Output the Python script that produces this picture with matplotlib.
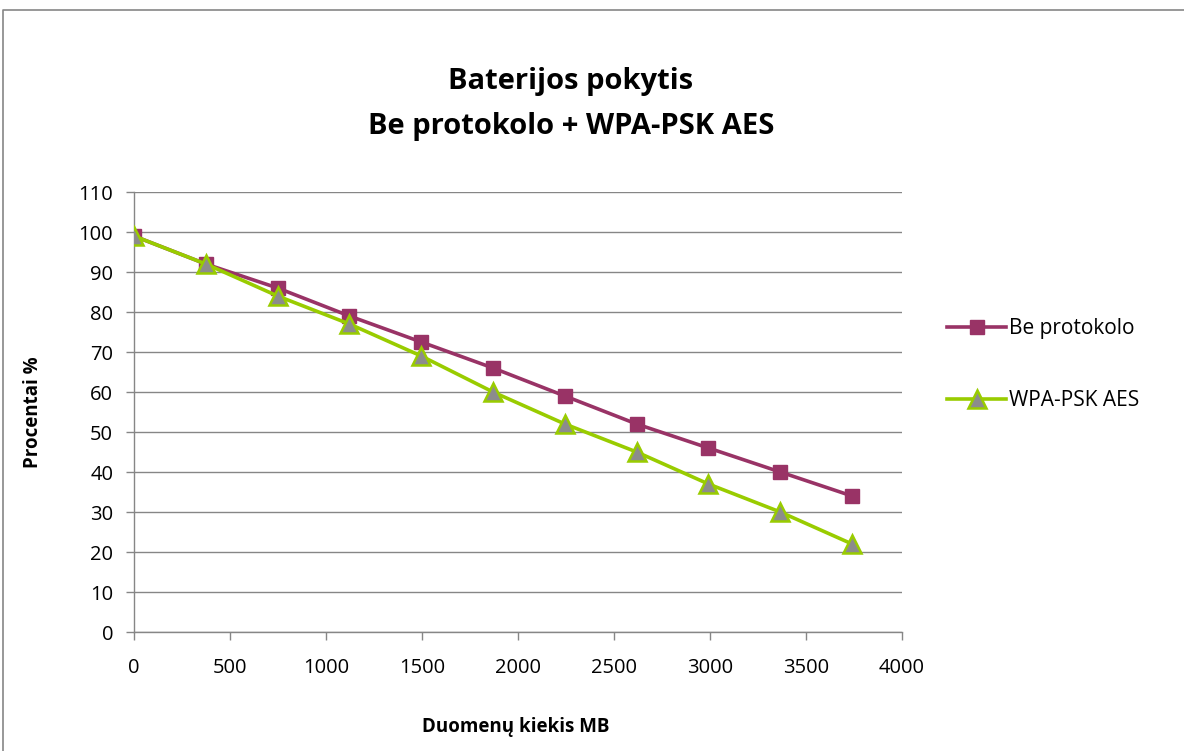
import matplotlib
matplotlib.use("Agg")
import matplotlib.pyplot as plt
from matplotlib.lines import Line2D

# Data: battery level (%) versus amount of transferred data (MB)
duomenys_mb = [0, 374, 748, 1122, 1496, 1870, 2244, 2618, 2992, 3366, 3740]
be_protokolo = [99, 92, 86, 79, 72.5, 66, 59, 52, 46, 40, 34]
wpa_psk_aes = [99, 92, 84, 77, 69, 60, 52, 45, 37, 30, 22]

serijos = ["Be protokolo", "WPA-PSK AES"]
pavadinimas = "Baterijos pokytis\nBe protokolo + WPA-PSK AES"
x_pavad = "Duomenų kiekis MB"
y_pavad = "Procentai %"
x_ticks = [0, 500, 1000, 1500, 2000, 2500, 3000, 3500, 4000]
y_ticks = list(range(0, 111, 10))

plt.rcParams["font.family"] = ["Open Sans", "DejaVu Sans"]

W, H = 1184, 751
fig = plt.figure(figsize=(W / 100, H / 100), dpi=100)
fig.patch.set_facecolor("white")

# outer chart frame (top and left edges fall inside the image)
frame_col = "#868686"
fig.add_artist(Line2D([3 / W, 3 / W, 1.0], [0.0, 1 - 10 / H, 1 - 10 / H],
                      transform=fig.transFigure, color=frame_col,
                      linewidth=1.2))

ax = fig.add_axes([134 / W, 1 - 632 / H, (902 - 134) / W, (632 - 192) / H])

grid_col = "#868686"
ax.set_xlim(0, 4000)
ax.set_ylim(0, 110)
ax.set_xticks(x_ticks)
ax.set_yticks(y_ticks)
ax.yaxis.grid(True, color=grid_col, linewidth=1.0)
ax.set_axisbelow(True)
for s in ["top", "right"]:
    ax.spines[s].set_visible(False)
for s in ["left", "bottom"]:
    ax.spines[s].set_color(grid_col)
    ax.spines[s].set_linewidth(1.0)
ax.tick_params(axis="both", direction="out", length=6, width=1.0,
               color=grid_col, labelsize=14.5, labelcolor="black")
ax.tick_params(axis="x", pad=13)
ax.tick_params(axis="y", pad=9)

l1, = ax.plot(duomenys_mb, be_protokolo, color="#993366", linewidth=2.6,
              marker="s", markersize=10, markerfacecolor="#993366",
              markeredgecolor="#993366", label=serijos[0], zorder=3)
l2, = ax.plot(duomenys_mb, wpa_psk_aes, color="#99CC00", linewidth=2.6,
              marker="^", markersize=13, markerfacecolor="#8C8C8C",
              markeredgecolor="#99CC00", markeredgewidth=1.8,
              label=serijos[1], zorder=4)

fig.text(571 / W, 1 - 104 / H, pavadinimas, ha="center", va="center",
         fontsize=21, fontweight="bold", linespacing=1.7)
fig.text(516 / W, 1 - 727 / H, x_pavad, ha="center", va="center",
         fontsize=13.5, fontweight="bold")
fig.text(33 / W, 1 - 412 / H, y_pavad, ha="center", va="center",
         fontsize=13.5, fontweight="bold", rotation=90)

fig.legend(handles=[l1, l2], loc="upper left",
           bbox_to_anchor=(937 / W, 1 - 308 / H), frameon=False,
           fontsize=15, handlelength=2.8, handletextpad=0.15,
           labelspacing=2.45, borderpad=0)

fig.savefig("out.png", dpi=100)
